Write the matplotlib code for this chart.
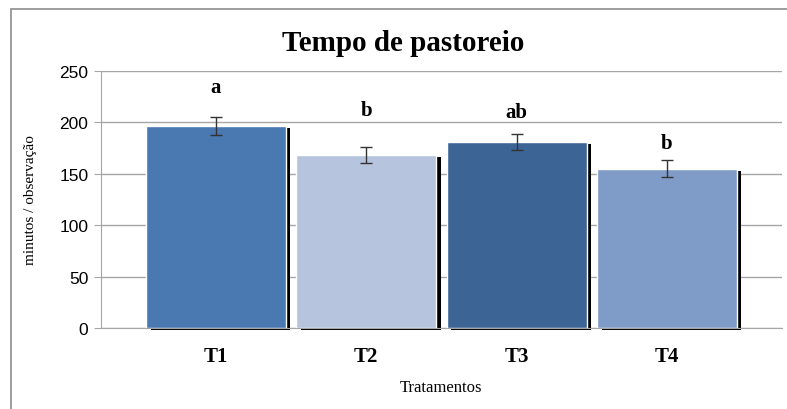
import numpy as np
import matplotlib.pyplot as plt
from matplotlib.patches import Rectangle

# DATA ------------------------------------------------------
tratamentos = ["T1", "T2", "T3", "T4"]
tempo = [196.5, 168.5, 181.0, 155.0]
erro = [8.5, 8.0, 8.0, 8.0]
letras = ["a", "b", "ab", "b"]
letra_y = [234, 212, 210, 180]
cores = ["#4a78b0", "#b6c4de", "#3c6495", "#7f9cc8"]

# PLOT ------------------------------------------------------
fig = plt.figure(figsize=(7.87, 4.10), dpi=100)
ax = fig.add_axes([0.1283, 0.1976, 0.8653, 0.6268])

x = np.arange(len(tratamentos))
w = 0.93

# black shadow behind each bar (shifted right and down)
ax.bar(x + 0.03, tempo, width=w, bottom=-2.2, color="black", zorder=2, clip_on=False)
ax.bar(x, tempo, width=w, color=cores, edgecolor="white", linewidth=1, zorder=3)
ax.errorbar(x, tempo, yerr=erro, fmt="none", ecolor="#333333", elinewidth=1,
            capsize=4.3, capthick=1, zorder=4)

for xi, txt, yy in zip(x, letras, letra_y):
    ax.text(xi, yy, txt, ha="center", va="center", family="Liberation Serif",
            fontweight="bold", fontsize=15)

ax.set_xlim(-0.765, 3.765)
ax.set_ylim(0, 250)
ax.set_yticks([0, 50, 100, 150, 200, 250])
ax.yaxis.grid(True, color="#a6a6a6", linewidth=1)
ax.set_axisbelow(True)
ax.set_xticks(x)
ax.set_xticklabels(tratamentos, family="Liberation Serif", fontweight="bold", fontsize=15)
ax.tick_params(axis="x", length=0, pad=13)
ax.tick_params(axis="y", length=5, color="#a6a6a6", labelsize=12.5, pad=4)
for lab in ax.get_yticklabels():
    lab.set_family("Liberation Sans")

for s in ["top", "right"]:
    ax.spines[s].set_visible(False)
ax.spines["left"].set_color("#a6a6a6")
ax.spines["bottom"].set_color("#a6a6a6")

ax.set_xlabel("Tratamentos", family="Liberation Serif", fontsize=12, labelpad=9)
ax.set_ylabel("minutos / observação", family="Liberation Serif", fontsize=11, labelpad=16)

fig.text(0.512, 0.895, "Tempo de pastoreio", ha="center", va="center",
         family="Liberation Serif", fontweight="bold", fontsize=21)

# outer chart border (cut by the image edge on the right and bottom)
fig.patches.append(Rectangle((0.014, -0.1), 1.2, 1.076, transform=fig.transFigure,
                             fill=False, edgecolor="#8c8c8c", linewidth=1.2))

fig.savefig("out.png", dpi=100)
